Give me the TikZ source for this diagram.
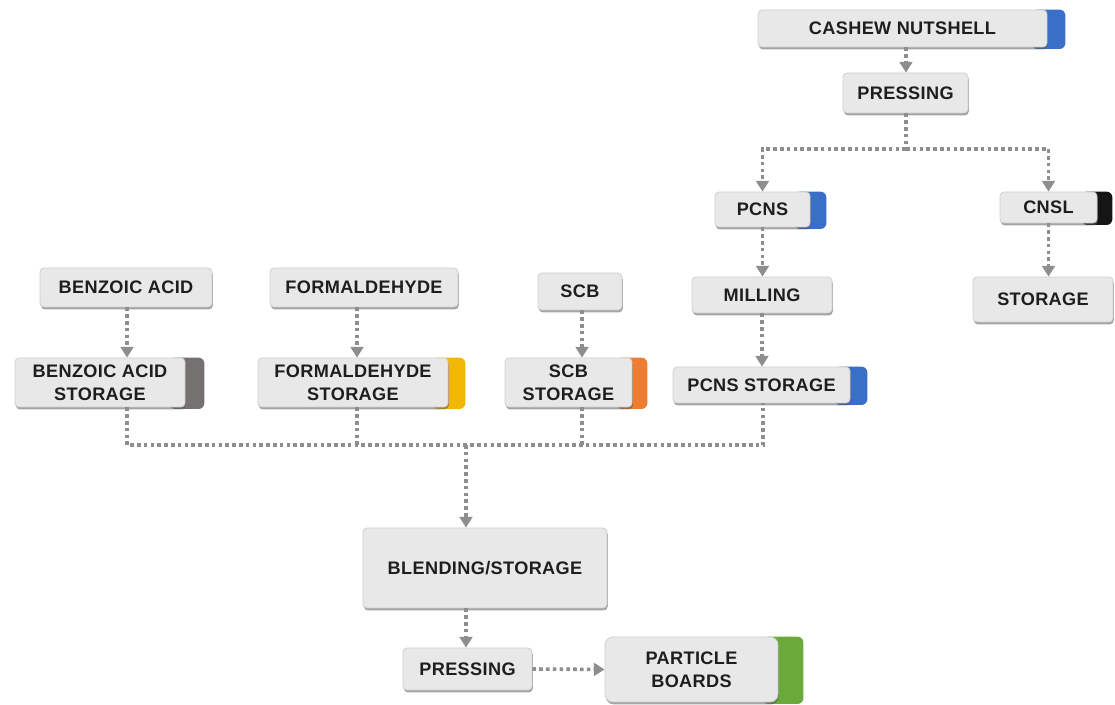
\documentclass[tikz,border=0pt]{standalone}
\usepackage{fontspec}
\setmainfont{Liberation Sans}[LetterSpace=2]
\usetikzlibrary{arrows.meta,backgrounds,shadows,calc}
\definecolor{boxfill}{HTML}{E8E8E8}
\definecolor{boxline}{HTML}{D0D0D0}
\definecolor{linegray}{HTML}{8E8E8E}
\definecolor{tabblue}{HTML}{3A6FC8}
\definecolor{tabblack}{HTML}{151515}
\definecolor{tabgray}{HTML}{757171}
\definecolor{tabyellow}{HTML}{F2B705}
\definecolor{taborange}{HTML}{EE7D31}
\definecolor{tabgreen}{HTML}{6BAA3A}
\definecolor{txt}{HTML}{1E1E1E}
\tikzset{
  px/.style={x=0.75pt,y=-0.75pt},
  pbox/.style={draw=boxline, fill=boxfill, rounded corners=3pt, line width=0.6pt,
    font=\fontsize{13.6}{17.2}\selectfont\bfseries, text=txt, align=center,
    inner sep=0pt,
    drop shadow={shadow xshift=0.6pt, shadow yshift=-1.8pt, fill=black!65, opacity=0.55}},
  flow/.style={draw=linegray, line width=2.7pt, dash pattern=on 2.7pt off 2.4pt,
    -{Triangle[width=9.5pt,length=8pt]}},
  flowplain/.style={draw=linegray, line width=2.7pt, dash pattern=on 2.7pt off 2.4pt},
}
% #1 node name, #2 tab colour, #3 tab width (px)
\newcommand{\tabfor}[3]{%
  \begin{scope}[on background layer]
    \fill[#2, rounded corners=4.5pt] ($(#1.north east)+(-12pt,0)$) rectangle ($(#1.south east)+(#3*0.75pt,-1.2pt)$);
  \end{scope}}
\begin{document}
\begin{tikzpicture}[px]
\useasboundingbox (0,0) rectangle (1115,705);

\node[pbox, minimum width=289*0.75pt, minimum height=37*0.75pt] (cash) at (902.5,28.5) {CASHEW NUTSHELL};
\node[pbox, minimum width=125*0.75pt, minimum height=40*0.75pt] (press1) at (905.5,93) {PRESSING};
\node[pbox, minimum width=95*0.75pt, minimum height=35*0.75pt] (pcns) at (762.5,209.5) {PCNS};
\node[pbox, minimum width=97*0.75pt, minimum height=31*0.75pt] (cnsl) at (1048.5,207.5) {CNSL};
\node[pbox, minimum width=140*0.75pt, minimum height=36*0.75pt] (mill) at (762,295) {MILLING};
\node[pbox, minimum width=140*0.75pt, minimum height=45*0.75pt] (stor) at (1043,299.5) {STORAGE};
\node[pbox, minimum width=172*0.75pt, minimum height=39*0.75pt] (ba) at (126,287.5) {BENZOIC ACID};
\node[pbox, minimum width=188*0.75pt, minimum height=39*0.75pt] (fa) at (364,287.5) {FORMALDEHYDE};
\node[pbox, minimum width=84*0.75pt, minimum height=37*0.75pt] (scb) at (580,291.5) {SCB};
\node[pbox, minimum width=170*0.75pt, minimum height=49*0.75pt] (bas) at (100,382.5) {BENZOIC ACID\\STORAGE};
\node[pbox, minimum width=190*0.75pt, minimum height=49*0.75pt] (fas) at (353,382.5) {FORMALDEHYDE\\STORAGE};
\node[pbox, minimum width=127*0.75pt, minimum height=49*0.75pt] (scbs) at (568.5,382.5) {SCB\\STORAGE};
\node[pbox, minimum width=177*0.75pt, minimum height=36*0.75pt] (pcnss) at (761.5,385) {PCNS STORAGE};
\node[pbox, minimum width=244*0.75pt, minimum height=80*0.75pt] (blend) at (485,568) {BLENDING/STORAGE};
\node[pbox, minimum width=129*0.75pt, minimum height=42*0.75pt] (press2) at (467.5,669) {PRESSING};
\node[pbox, rounded corners=6pt, minimum width=173*0.75pt, minimum height=65*0.75pt] (pb) at (691.5,669.5) {PARTICLE\\BOARDS};

\tabfor{cash}{tabblue}{18}
\tabfor{pcns}{tabblue}{16}
\tabfor{cnsl}{tabblack}{15}
\tabfor{bas}{tabgray}{19}
\tabfor{fas}{tabyellow}{17}
\tabfor{scbs}{taborange}{15}
\tabfor{pcnss}{tabblue}{17}
\tabfor{pb}{tabgreen}{25}

% junction coordinates
\coordinate (jtop) at (906,149);
\coordinate (jbot) at (466,445);

% top section
\draw[flow] (cash.south -| jtop) -- (press1.north -| jtop);
\draw[flowplain] (press1.south -| jtop) -- (jtop);
\draw[flow] (jtop) -- (jtop -| pcns.north) -- (pcns.north);
\draw[flow] (jtop) -- (jtop -| cnsl.north) -- (cnsl.north);
\draw[flow] (cnsl.south) -- (stor.north -| cnsl.south);
\draw[flow] (pcns.south) -- (mill.north -| pcns.south);
\draw[flow] (mill.south) -- (pcnss.north -| mill.south);

% inputs to storages
\coordinate (xba) at (127,0);
\coordinate (xfa) at (357,0);
\coordinate (xscb) at (582,0);
\coordinate (xpc) at (763,0);
\draw[flow] (ba.south -| xba) -- (bas.north -| xba);
\draw[flow] (fa.south -| xfa) -- (fas.north -| xfa);
\draw[flow] (scb.south -| xscb) -- (scbs.north -| xscb);

% collecting bus
\draw[flowplain] (bas.south -| xba) -- (jbot -| xba) -- (jbot -| xpc) -- (pcnss.south -| xpc);
\draw[flowplain] (fas.south -| xfa) -- (jbot -| xfa);
\draw[flowplain] (scbs.south -| xscb) -- (jbot -| xscb);
\draw[flow] (jbot) -- (blend.north -| jbot);

% bottom
\draw[flow] (blend.south -| jbot) -- (press2.north -| jbot);
\draw[flow] (press2.east) -- (pb.west);
\end{tikzpicture}
\end{document}
